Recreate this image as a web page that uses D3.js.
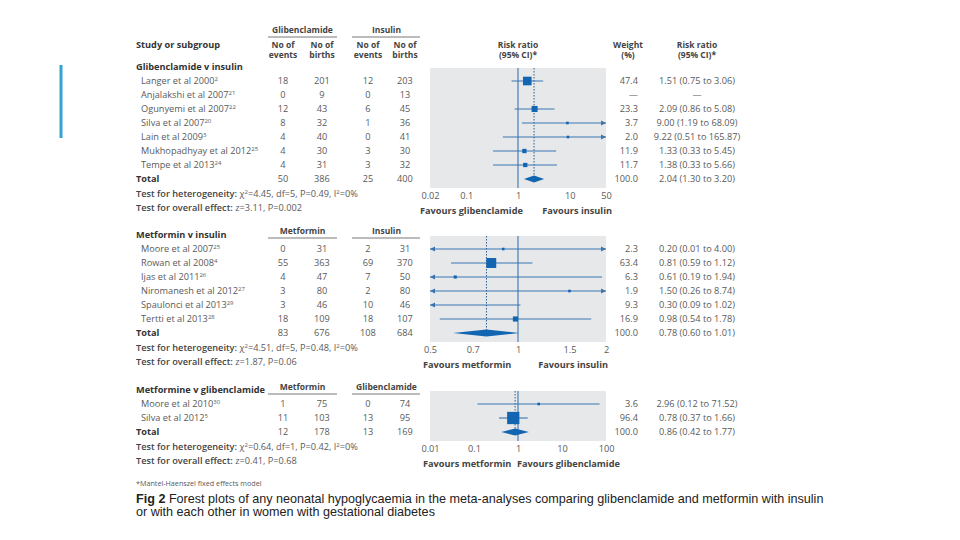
<!DOCTYPE html>
<html>
<head>
<meta charset="utf-8">
<script src="https://cdn.jsdelivr.net/npm/d3@7"></script>
<style>
  body { margin: 0; background: #fff; }
  svg { display: block; font-family: "Open Sans", sans-serif; }
</style>
</head>
<body>
<svg id="chart" width="960" height="540"></svg>
<script>
/* ---------- data: glibenclamide v insulin ---------- */
const glibStudies = ['Langer et al 2000', 'Anjalakshi et al 2007', 'Ogunyemi et al 2007', 'Silva et al 2007',
  'Lain et al 2009', 'Mukhopadhyay et al 2012', 'Tempe et al 2013'];
const glibRefs = ['2', '21', '22', '20', '3', '25', '24'];
const glibEv1 = [18, 0, 12, 8, 4, 4, 4];
const glibN1 = [201, 9, 43, 32, 40, 30, 31];
const glibEv2 = [12, 0, 6, 1, 0, 3, 3];
const glibN2 = [203, 13, 45, 36, 41, 30, 32];
const glibWeight = [47.4, null, 23.3, 3.7, 2.0, 11.9, 11.7];
const glibRR = [1.51, null, 2.09, 9.00, 9.22, 1.33, 1.38];
const glibLo = [0.75, null, 0.86, 1.19, 0.51, 0.33, 0.33];
const glibHi = [3.06, null, 5.08, 68.09, 165.87, 5.45, 5.66];
const glibTotal = [50, 386, 25, 400];
const glibPooled = [2.04, 1.30, 3.20];
const glibTicks = [0.02, 0.1, 1, 10, 50];

/* ---------- data: metformin v insulin ---------- */
const metStudies = ['Moore et al 2007', 'Rowan et al 2008', 'Ijas et al 2011', 'Niromanesh et al 2012',
  'Spaulonci et al 2013', 'Tertti et al 2013'];
const metRefs = ['25', '4', '26', '27', '29', '28'];
const metEv1 = [0, 55, 4, 3, 3, 18];
const metN1 = [31, 363, 47, 80, 46, 109];
const metEv2 = [2, 69, 7, 2, 10, 18];
const metN2 = [31, 370, 50, 80, 46, 107];
const metWeight = [2.3, 63.4, 6.3, 1.9, 9.3, 16.9];
const metRR = [0.20, 0.81, 0.61, 1.50, 0.30, 0.98];
const metLo = [0.01, 0.59, 0.19, 0.26, 0.09, 0.54];
const metHi = [4.00, 1.12, 1.94, 8.74, 1.02, 1.78];
// where the markers sit in the figure (Moore's marker is drawn near 0.89)
const metMarks = [0.89, 0.81, 0.61, 1.50, 0.30, 0.98];
const metTotal = [83, 676, 108, 684];
const metPooled = [0.78, 0.60, 1.01];
const metTicks = [0.5, 0.7, 1, 1.5, 2];

/* ---------- data: metformin v glibenclamide ---------- */
const mgStudies = ['Moore et al 2010', 'Silva et al 2012'];
const mgRefs = ['30', '5'];
const mgEv1 = [1, 11];
const mgN1 = [75, 103];
const mgEv2 = [0, 13];
const mgN2 = [74, 95];
const mgWeight = [3.6, 96.4];
const mgRR = [2.96, 0.78];
const mgLo = [0.12, 0.37];
const mgHi = [71.52, 1.66];
const mgTotal = [12, 178, 13, 169];
const mgPooled = [0.86, 0.42, 1.77];
const mgTicks = [0.01, 0.1, 1, 10, 100];

/* ---------- setup ---------- */
const svg = d3.select('#chart');
const FS = 9.2;
const HFS = 8.5;
const TXT = '#5a5a5a';
const BOLD = '#333';
const LINE = '#3b74b0';
const MARK = '#1265b1';
const COLS = [283, 322, 368, 405];
const STEP = 14;

// slide decoration bar
svg.append('rect').attr('x', 59.5).attr('y', 65).attr('width', 3).attr('height', 73).attr('fill', '#35a4d4');

function txt(x, y, s, opts = {}) {
  const size = opts.size || FS;
  return svg.append('text')
    .attr('x', x).attr('y', y + size * 0.36)
    .attr('font-size', size)
    .attr('font-weight', opts.bold ? 700 : 400)
    .attr('fill', opts.color || (opts.bold ? BOLD : TXT))
    .attr('text-anchor', opts.anchor || 'start')
    .text(s);
}

function studyName(y, name, ref) {
  const t = txt(141, y, name);
  t.append('tspan').attr('font-size', 6).attr('dy', -3.5).text(ref);
}

function testLine(y, label, parts) {
  const t = svg.append('text').attr('x', 136).attr('y', y + 3.3)
    .attr('font-size', FS).attr('fill', TXT);
  t.append('tspan').attr('font-weight', 600).attr('fill', '#444').text(label);
  parts.forEach(p => {
    if (p.sup) t.append('tspan').attr('font-size', 6).attr('dy', -3.5).text(p.sup);
    else t.append('tspan').attr('dy', p.down ? 3.5 : 0).text(p.t);
  });
}

function groupHeader(y, left, right) {
  txt((COLS[0] + COLS[1]) / 2, y, left, { bold: true, anchor: 'middle', color: '#444', size: HFS });
  txt((COLS[2] + COLS[3]) / 2, y, right, { bold: true, anchor: 'middle', color: '#444', size: HFS });
  svg.append('line').attr('x1', 268).attr('x2', 337).attr('y1', y + 7).attr('y2', y + 7)
    .attr('stroke', '#555').attr('stroke-width', 0.8);
  svg.append('line').attr('x1', 352).attr('x2', 420).attr('y1', y + 7).attr('y2', y + 7)
    .attr('stroke', '#555').attr('stroke-width', 0.8);
}

function fmt2(v) { return v.toFixed(2); }

function drawPanel(p) {
  const n = p.studies.length;
  const rowY = i => p.firstY + i * STEP;
  const totalY = rowY(n);
  const boxTop = p.firstY - 13;
  const boxBot = totalY + 9;

  txt(136, p.firstY - 14, p.title, { bold: true });

  // table rows
  p.studies.forEach((s, i) => {
    const y = rowY(i);
    studyName(y, s, p.refs[i]);
    [p.ev1[i], p.n1[i], p.ev2[i], p.n2[i]].forEach((v, j) => txt(COLS[j], y, v, { anchor: 'middle' }));
    txt(638, y, p.weight[i] == null ? '—' : p.weight[i].toFixed(1), { anchor: 'end' });
    txt(697, y, p.rr[i] == null ? '—'
      : `${fmt2(p.rr[i])} (${fmt2(p.lo[i])} to ${fmt2(p.hi[i])})`, { anchor: 'middle' });
  });
  txt(136, totalY, 'Total', { bold: true });
  p.total.forEach((v, j) => txt(COLS[j], totalY, v, { anchor: 'middle' }));
  txt(638, totalY, '100.0', { anchor: 'end' });
  txt(697, totalY, `${fmt2(p.pooled[0])} (${fmt2(p.pooled[1])} to ${fmt2(p.pooled[2])})`, { anchor: 'middle' });

  testLine(totalY + 15, 'Test for heterogeneity: ', p.het);
  testLine(totalY + 29, 'Test for overall effect: ', p.overall);

  // forest plot
  const x = d3.scaleLog().domain(d3.extent(p.ticks)).range([430, 606]);
  const [dMin, dMax] = x.domain();
  const g = svg.append('g');
  g.append('rect').attr('x', 430).attr('y', boxTop).attr('width', 176).attr('height', boxBot - boxTop)
    .attr('fill', '#e7e8ea');
  g.append('line').attr('x1', x(1)).attr('x2', x(1)).attr('y1', boxTop).attr('y2', boxBot)
    .attr('stroke', LINE).attr('stroke-width', 1.1);
  g.append('line').attr('x1', x(p.pooled[0])).attr('x2', x(p.pooled[0]))
    .attr('y1', boxTop).attr('y2', totalY)
    .attr('stroke', '#2f5f8f').attr('stroke-width', 1).attr('stroke-dasharray', '1.5,1.5');

  p.rr.forEach((rr, i) => {
    if (rr == null) return;
    const y = rowY(i);
    const lo = Math.max(p.lo[i], dMin), hi = Math.min(p.hi[i], dMax);
    g.append('line').attr('x1', x(lo)).attr('x2', x(hi)).attr('y1', y).attr('y2', y)
      .attr('stroke', LINE).attr('stroke-width', 1.1);
    if (p.hi[i] > dMax) {
      g.append('path').attr('d', `M${x(dMax)},${y}l-5,-2.5v5z`).attr('fill', LINE);
    }
    if (p.lo[i] < dMin) {
      g.append('path').attr('d', `M${x(dMin)},${y}l5,-2.5v5z`).attr('fill', LINE);
    }
    const m = p.marks ? p.marks[i] : rr;
    if (m >= dMin && m <= dMax) {
      const side = Math.max(2.6, 1.25 * Math.sqrt(p.weight[i]));
      g.append('rect').attr('x', x(m) - side / 2).attr('y', y - side / 2)
        .attr('width', side).attr('height', side).attr('fill', MARK);
    }
  });

  const [pr, pl, ph] = p.pooled;
  g.append('path')
    .attr('d', `M${x(pl)},${totalY}L${x(pr)},${totalY - 3.5}L${x(ph)},${totalY}L${x(pr)},${totalY + 3.5}Z`)
    .attr('fill', MARK);

  const axis = g.append('g').attr('transform', `translate(0,${boxBot + 1})`)
    .call(d3.axisBottom(x).tickValues(p.ticks).tickSize(0).tickFormat(d => String(d)));
  axis.select('.domain').remove();
  axis.selectAll('text').attr('font-size', FS).attr('fill', TXT).attr('font-family', '"Open Sans", sans-serif');

  txt(p.favL, boxBot + 23, 'Favours ' + p.favours[0], { bold: true, color: '#444' });
  txt(p.favR, boxBot + 23, 'Favours ' + p.favours[1], { bold: true, color: '#444', anchor: p.favRAnchor });
}

/* ---------- headers ---------- */
groupHeader(30, 'Glibenclamide', 'Insulin');
txt(136, 45, 'Study or subgroup', { bold: true });
COLS.forEach((c, j) => {
  txt(c, 44.5, 'No of', { bold: true, anchor: 'middle', color: '#444', size: HFS });
  txt(c, 55, j % 2 ? 'births' : 'events', { bold: true, anchor: 'middle', color: '#444', size: HFS });
});
txt(518, 44.5, 'Risk ratio', { bold: true, anchor: 'middle', color: '#444', size: HFS });
txt(518, 55, '(95% CI)*', { bold: true, anchor: 'middle', color: '#444', size: HFS });
txt(628, 44.5, 'Weight', { bold: true, anchor: 'middle', color: '#444', size: HFS });
txt(628, 55, '(%)', { bold: true, anchor: 'middle', color: '#444', size: HFS });
txt(697, 44.5, 'Risk ratio', { bold: true, anchor: 'middle', color: '#444', size: HFS });
txt(697, 55, '(95% CI)*', { bold: true, anchor: 'middle', color: '#444', size: HFS });

drawPanel({
  title: 'Glibenclamide v insulin', firstY: 81,
  studies: glibStudies, refs: glibRefs, ev1: glibEv1, n1: glibN1, ev2: glibEv2, n2: glibN2,
  weight: glibWeight, rr: glibRR, lo: glibLo, hi: glibHi, total: glibTotal, pooled: glibPooled,
  ticks: glibTicks, favours: ['glibenclamide', 'insulin'], favL: 420, favR: 612, favRAnchor: 'end',
  het: [{ t: 'χ' }, { sup: '2' }, { t: '=4.45, df=5, P=0.49, I', down: true }, { sup: '2' }, { t: '=0%', down: true }],
  overall: [{ t: 'z=3.11, P=0.002' }]
});

groupHeader(231, 'Metformin', 'Insulin');
drawPanel({
  title: 'Metformin v insulin', firstY: 249,
  studies: metStudies, refs: metRefs, ev1: metEv1, n1: metN1, ev2: metEv2, n2: metN2,
  weight: metWeight, rr: metRR, lo: metLo, hi: metHi, marks: metMarks, total: metTotal, pooled: metPooled,
  ticks: metTicks, favours: ['metformin', 'insulin'], favL: 423, favR: 608, favRAnchor: 'end',
  het: [{ t: 'χ' }, { sup: '2' }, { t: '=4.51, df=5, P=0.48, I', down: true }, { sup: '2' }, { t: '=0%', down: true }],
  overall: [{ t: 'z=1.87, P=0.06' }]
});

groupHeader(387, 'Metformin', 'Glibenclamide');
drawPanel({
  title: 'Metformine v glibenclamide', firstY: 404,
  studies: mgStudies, refs: mgRefs, ev1: mgEv1, n1: mgN1, ev2: mgEv2, n2: mgN2,
  weight: mgWeight, rr: mgRR, lo: mgLo, hi: mgHi, total: mgTotal, pooled: mgPooled,
  ticks: mgTicks, favours: ['metformin', 'glibenclamide'], favL: 423, favR: 517, favRAnchor: 'start',
  het: [{ t: 'χ' }, { sup: '2' }, { t: '=0.64, df=1, P=0.42, I', down: true }, { sup: '2' }, { t: '=0%', down: true }],
  overall: [{ t: 'z=0.41, P=0.68' }]
});

/* ---------- footnote + caption ---------- */
txt(136, 483, '*Mantel-Haenszel fixed effects model', { size: 7.2 });
const cap = svg.append('text').attr('x', 136).attr('y', 503)
  .attr('font-family', '"Liberation Sans", Arial, sans-serif').attr('font-size', 12.6).attr('fill', '#222');
cap.append('tspan').attr('font-weight', 700).text('Fig 2');
cap.append('tspan').text(' Forest plots of any neonatal hypoglycaemia in the meta-analyses comparing glibenclamide and metformin with insulin');
svg.append('text').attr('x', 136).attr('y', 516)
  .attr('font-family', '"Liberation Sans", Arial, sans-serif').attr('font-size', 12.6).attr('fill', '#222')
  .text('or with each other in women with gestational diabetes');
</script>
</body>
</html>
